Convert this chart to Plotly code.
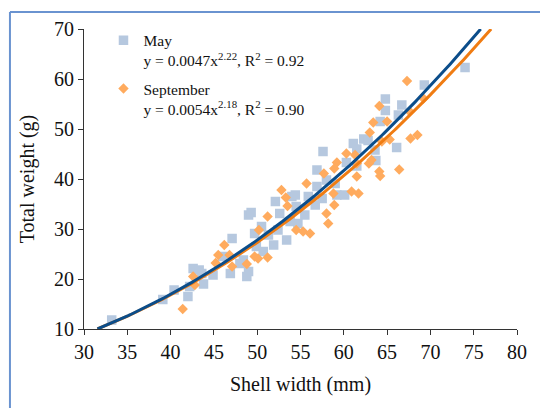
import numpy as np
import plotly.graph_objects as go

# ---- data ----
may_x = [33.2, 39.1, 40.4, 42.0, 42.2, 42.6, 43.3, 43.6, 43.8, 44.9, 46.0, 46.9, 47.1, 48.0, 48.4,
         48.8, 49.0, 49.0, 49.3, 49.7, 49.9, 50.5, 50.7, 51.3, 51.9, 52.1, 52.4, 52.6, 53.4, 53.8,
         54.0, 54.4, 54.5, 54.7, 55.5, 55.9, 56.7, 56.9, 56.9, 57.5, 57.6, 58.0, 59.0, 59.2, 60.1,
         60.3, 61.1, 61.5, 61.5, 62.3, 62.8, 63.6, 63.7, 64.2, 64.8, 64.8, 66.1, 66.3, 66.7, 69.3, 74.0]
may_y = [11.8, 15.9, 17.8, 16.5, 18.5, 22.1, 21.8, 21.1, 19.0, 20.8, 24.5, 21.1, 28.1, 23.1, 23.8,
         20.5, 21.5, 32.8, 33.3, 29.1, 26.5, 30.5, 25.5, 28.8, 26.8, 35.5, 29.8, 33.1, 27.8, 31.5,
         36.5, 36.8, 34.5, 31.1, 32.8, 36.5, 34.8, 38.5, 41.8, 36.1, 45.5, 39.8, 39.1, 36.8, 36.8,
         43.3, 47.1, 46.0, 42.6, 48.0, 47.7, 45.8, 43.7, 51.5, 53.7, 56.0, 46.3, 52.8, 54.8, 58.8, 62.3]

sep_x = [41.4, 42.6, 42.8, 45.2, 45.5, 46.2, 46.8, 47.1, 48.8, 49.7, 50.1, 50.2, 51.2, 51.2, 52.8,
         53.3, 53.5, 54.5, 55.3, 56.1, 55.7, 57.7, 58.0, 58.2, 58.9, 58.8, 58.9, 59.2, 60.3, 61.3,
         61.5, 61.5, 60.9, 61.7, 62.9, 63.2, 63.0, 63.4, 64.1, 65.0, 64.4, 65.3, 64.1, 64.2, 66.4,
         67.6, 67.7, 68.5, 69.2, 67.3]
sep_y = [14.0, 20.5, 18.8, 23.2, 24.8, 26.8, 24.8, 22.5, 23.0, 24.5, 24.1, 29.8, 24.3, 32.5, 37.8,
         36.3, 34.6, 29.8, 29.5, 29.1, 39.1, 41.1, 33.1, 31.1, 34.8, 37.1, 42.1, 43.3, 45.1, 44.8,
         43.1, 40.5, 37.5, 37.1, 43.1, 43.8, 49.3, 51.3, 54.6, 51.5, 47.5, 47.9, 41.5, 40.6, 41.9,
         53.5, 48.1, 48.8, 56.1, 59.6]

# power-law fits shown in the legend: y = a * x^b
may_fit = (0.0047, 2.22)
sep_fit = (0.0054, 2.18)

x_ticks = [30, 35, 40, 45, 50, 55, 60, 65, 70, 75, 80]
y_ticks = [10, 20, 30, 40, 50, 60, 70]
x_range = [30, 80]
y_range = [10, 70]

may_name = "May<br>y = 0.0047x<sup>2.22</sup>, R<sup>2</sup> = 0.92"
sep_name = "September<br>y = 0.0054x<sup>2.18</sup>, R<sup>2</sup> = 0.90"

FONT = "Liberation Serif"


def fit_curve(a, b):
    x0 = (y_range[0] / a) ** (1 / b)
    x1 = (y_range[1] / a) ** (1 / b)
    xs = np.linspace(x0, x1, 200)
    return xs, a * xs ** b


fig = go.Figure()
fig.add_trace(go.Scatter(x=may_x, y=may_y, mode="markers", name=may_name, legendgroup="may",
                         marker=dict(symbol="square", size=9.5, color="#b6c8df")))
fig.add_trace(go.Scatter(x=sep_x, y=sep_y, mode="markers", name=sep_name, legendgroup="sep",
                         marker=dict(symbol="diamond", size=8, color="#ffab5e")))
sx, sy = fit_curve(*sep_fit)
fig.add_trace(go.Scatter(x=sx, y=sy, mode="lines", showlegend=False,
                         line=dict(color="#f07c12", width=3)))
mx, my = fit_curve(*may_fit)
fig.add_trace(go.Scatter(x=mx, y=my, mode="lines", showlegend=False,
                         line=dict(color="#0b4d8a", width=3)))

axis_common = dict(showgrid=False, zeroline=False, showline=True, linecolor="#333333",
                   linewidth=1, ticks="outside", ticklen=5, tickcolor="#333333",
                   tickfont=dict(family=FONT, size=20, color="#111111"))

fig.update_xaxes(range=x_range, tickvals=x_ticks, **axis_common,
                 title=dict(text="Shell width (mm)", font=dict(family=FONT, size=20, color="#111111"),
                            standoff=14))
fig.update_yaxes(range=y_range, tickvals=y_ticks, **axis_common,
                 title=dict(text="Total weight (g)", font=dict(family=FONT, size=20, color="#111111"),
                            standoff=14))

# outer frame (left and top edges visible)
frame = "#6a93d0"
fig.add_shape(type="line", xref="paper", yref="paper", x0=-0.171, x1=1.2, y0=1.057, y1=1.057,
              line=dict(color=frame, width=2))
fig.add_shape(type="line", xref="paper", yref="paper", x0=-0.171, x1=-0.171, y0=-0.3, y1=1.057,
              line=dict(color=frame, width=2))

fig.update_layout(
    width=540, height=408,
    margin=dict(l=84, r=23, t=29, b=79),
    paper_bgcolor="white", plot_bgcolor="white",
    font=dict(family=FONT, color="#111111"),
    legend=dict(x=0.045, y=1.018, xanchor="left", yanchor="top", valign="top",
                font=dict(family=FONT, size=15.5, color="#111111"),
                bgcolor="rgba(0,0,0,0)", tracegroupgap=5, itemwidth=30),
)

fig.write_html("out.html")
